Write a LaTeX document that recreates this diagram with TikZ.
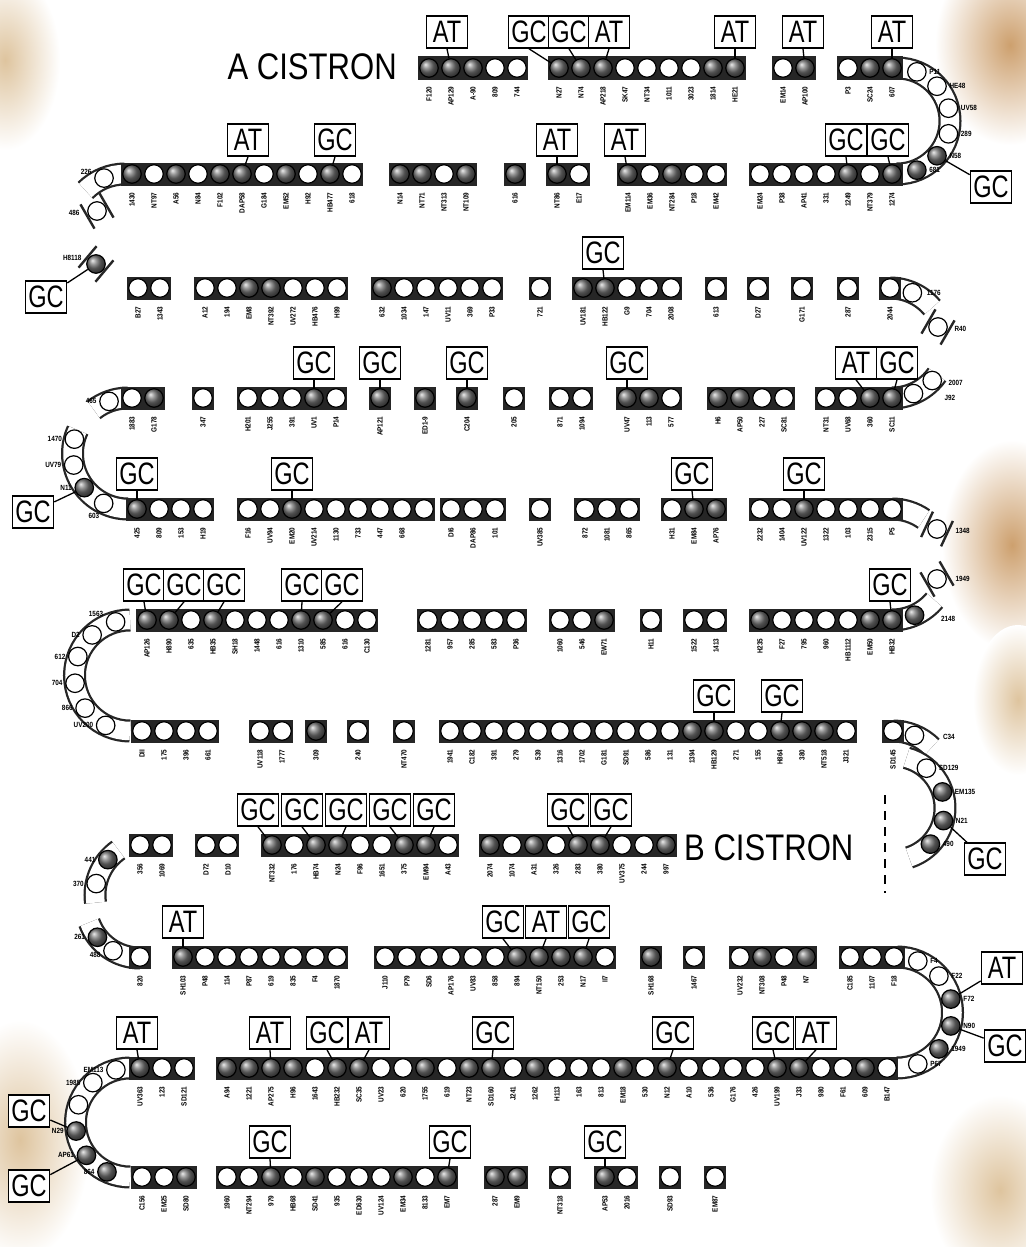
\documentclass[tikz,border=0pt]{standalone}
\usepackage{fontspec}
\setmainfont{Liberation Sans}
\newfontfamily\boxf[FakeStretch=0.76]{Liberation Sans}
\newfontfamily\cisf[FakeStretch=0.84]{Liberation Sans}
\newfontfamily\labf[FakeStretch=0.85]{Liberation Sans}
\definecolor{stain}{RGB}{222,196,158}
\definecolor{stainb}{RGB}{205,160,110}
\tikzset{
 oc/.style={circle,draw=black,line width=1.2pt,fill=white,minimum size=18.5pt,inner sep=0pt},
 fc/.style={circle,draw=black,line width=1.2pt,ball color=black!55,minimum size=18.5pt,inner sep=0pt},
 lab/.style={rotate=90,anchor=east,inner sep=0.3pt,font=\labf\bfseries\fontsize{7.5}{7.5}\selectfont},
 alab/.style={inner sep=0.3pt,font=\labf\bfseries\fontsize{7.5}{7.5}\selectfont},
 bp/.style={draw=black,line width=1.6pt,fill=white,minimum width=41pt,minimum height=32pt,inner sep=0pt,font=\boxf\fontsize{31}{31}\selectfont},
 cis/.style={inner sep=0pt,font=\cisf\fontsize{37}{37}\selectfont},
 conn/.style={line width=1.3pt},
 bandc/.style={fill=black!85},
 arcout/.style={line width=23pt,black!85},
 arcin/.style={line width=18.5pt,white},
 rail/.style={line width=2.4pt,black!85},
 dashln/.style={line width=2pt,dash pattern=on 9pt off 7pt}
}
% straight segment: id, x of first circle, y, list type/label
\newcommand\seg[4]{%
 \foreach \ty/\lb [count=\i from 0] in {#4}{%
  \fill[bandc] ({#2+\i*22-11.3},{#3-11.5}) rectangle ({#2+\i*22+11.3},{#3+11.5});
 }%
 \foreach \ty/\lb [count=\i] in {#4}{%
  \node[\ty] (#1-\i) at ({#2+(\i-1)*22},#3) {};
  \node[lab] at ({#2+(\i-1)*22},{#3+18}) {\lb};
 }%
}
% curved band: cx cy R a1 a2
\newcommand\arcband[5]{%
 \draw[arcout] ({#1+#3*cos(#4)},{#2+#3*sin(#4)}) arc[start angle=#4,end angle=#5,radius=#3];
 \draw[arcin] ({#1+#3*cos(#4)},{#2+#3*sin(#4)}) arc[start angle=#4,end angle=#5,radius=#3];
}
% circle on a curve: name cx cy R angle type label labelopts
\newcommand\arcc[8]{%
 \node[#6] (#1) at ({#2+#4*cos(#5)},{#3+#4*sin(#5)}) {};
 \node[alab,#8] at (#1) {#7};
}
% loose fragment: name x y rotation type
\newcommand\frag[5]{%
 \begin{scope}[shift={(#2,#3)},rotate=#4]
  \draw[rail] (-14,-11) -- (14,-11) (-14,11) -- (14,11);
 \end{scope}
 \node[#5] (#1) at (#2,#3) {};
}
% box with connector: name x y text target
\newcommand\bx[5]{%
 \node[bp] (#1) at (#2,#3) {#4};
 \draw[conn] (#1.south) -- (#5);
}
\begin{document}
\begin{tikzpicture}[x=1pt,y=-1pt]
\fill[white] (0,0) rectangle (1025,1247);
\useasboundingbox (0,0) rectangle (1025,1247);
% paper stains
\shade[inner color=stain,outer color=white] (5,60) ellipse [x radius=55,y radius=90];
\shade[inner color=stainb,outer color=white] (1010,45) ellipse [x radius=75,y radius=100];
\shade[inner color=stainb,outer color=white] (1012,545) ellipse [x radius=70,y radius=105];
\shade[inner color=stain,outer color=white] (1018,700) ellipse [x radius=45,y radius=75];
\shade[inner color=stain,outer color=white] (20,1140) ellipse [x radius=70,y radius=120];
\shade[inner color=stain,outer color=white] (1000,1190) ellipse [x radius=70,y radius=95];

% ---------- curved bands ----------
\arcband{897}{121}{53}{-90}{90}
\arcband{125}{230}{56}{-90}{-135}
\arcband{890}{343}{55}{-90}{-40}
\arcband{128}{453.5}{55.5}{-90}{-128}
\arcband{128}{453.5}{55.5}{-155}{-270}
\arcband{892}{343}{55}{90}{35}
\arcband{892}{564.5}{55.5}{-90}{-55}
\arcband{892}{564.5}{55.5}{90}{40}
\arcband{130}{675.5}{55.5}{-90}{-270}
\arcband{893}{786}{55}{-90}{-45}
\arcband{893}{808}{52}{-75}{72}
\arcband{150}{895}{55}{-125}{-188}
\arcband{140}{904}{54}{160}{90}
\arcband{897}{1012.5}{55.5}{-90}{90}
\arcband{130}{1122.5}{54.5}{-90}{-270}

% ---------- row 1 ----------
\node[cis,anchor=base east] (acis) at (397,80) {A CISTRON};
\seg{r1a}{429}{68}{fc/F120,fc/AP129,fc/A-90,oc/809,oc/744}
\seg{r1b}{559}{68}{fc/N27,fc/N74,fc/AP218,oc/SK47,oc/NT34,oc/1011,oc/3023,fc/1814,fc/HE21}
\seg{r1c}{783}{68}{oc/EM14,fc/AP100}
\seg{r1d}{848}{68}{oc/P3,fc/SC24,fc/607}
% ---------- row 2 ----------
\seg{r2a}{132}{174}{fc/1430,oc/NT97,fc/A56,oc/N84,fc/F102,fc/DAP58,oc/G184,fc/EM52,oc/H92,fc/HB477,oc/618}
\seg{r2b}{400}{174}{fc/N14,fc/NT71,oc/NT313,fc/NT109}
\seg{r2c}{515}{174}{fc/616}
\seg{r2d}{557}{174}{fc/NT86,oc/E17}
\seg{r2e}{628}{174}{fc/EM114,oc/EM36,fc/NT284,oc/P18,oc/EM42}
\seg{r2f}{760}{174}{oc/EM24,oc/P38,oc/AP41,oc/331,fc/1249,oc/NT379,fc/1274}
% ---------- row 3 ----------
\seg{r3a}{138}{288}{oc/B27,oc/1343}
\seg{r3b}{205}{288}{oc/A12,oc/194,fc/EM8,fc/NT392,oc/UV272,oc/HB476,oc/H99}
\seg{r3c}{382}{288}{fc/632,oc/1034,oc/147,oc/UV11,oc/369,oc/P33}
\seg{r3d}{540}{288}{oc/721}
\seg{r3e}{583}{288}{fc/UV181,fc/HB122,oc/G9,oc/704,oc/2008}
\seg{r3f}{716}{288}{oc/613}
\seg{r3g}{758}{288}{oc/D27}
\seg{r3h}{802}{288}{oc/G171}
\seg{r3i}{848}{288}{oc/287}
\seg{r3j}{890}{288}{oc/2044}
% ---------- row 4 ----------
\seg{r4a}{132}{398}{oc/1883,fc/G178}
\seg{r4b}{203}{398}{oc/347}
\seg{r4c}{248}{398}{oc/H201,oc/J255,oc/391,fc/UV1,oc/P14}
\seg{r4d}{380}{398}{fc/AP121}
\seg{r4e}{425}{398}{fc/ED1-9}
\seg{r4f}{467}{398}{fc/C204}
\seg{r4g}{514}{398}{oc/205}
\seg{r4h}{560}{398}{oc/871,oc/1094}
\seg{r4i}{627}{398}{fc/UV47,fc/113,oc/577}
\seg{r4j}{718}{398}{fc/H6,fc/AP50,oc/227,oc/SC81}
\seg{r4k}{826}{398}{oc/NT31,oc/UV68,fc/360,fc/SC11}
% ---------- row 5 ----------
\seg{r5a}{137}{509}{fc/425,oc/809,oc/153,oc/H19}
\seg{r5b}{248}{509}{oc/F16,oc/UV94,fc/EM20,oc/UV214,oc/1130,oc/733,oc/447,oc/668,oc/{}}
\seg{r5c}{451}{509}{oc/DI6,oc/DAP86,oc/101}
\seg{r5d}{540}{509}{oc/UV385}
\seg{r5e}{585}{509}{oc/872,oc/1081,oc/865}
\seg{r5f}{672}{509}{oc/H31,fc/EM84,fc/AP76}
\seg{r5g}{760}{509}{oc/2232,oc/1404,fc/UV122,oc/1322,oc/103,oc/2315,oc/P5}
% ---------- row 6 ----------
\seg{r6a}{147}{620}{fc/AP126,fc/H890,oc/635,fc/HB35,oc/SH18,oc/1448,oc/616,fc/1310,fc/585,oc/616,oc/C130}
\seg{r6b}{428}{620}{oc/1281,oc/957,oc/285,oc/583,oc/P36}
\seg{r6c}{560}{620}{oc/1060,oc/546,fc/EW71}
\seg{r6d}{651}{620}{oc/H11}
\seg{r6e}{694}{620}{oc/1522,oc/1413}
\seg{r6f}{760}{620}{fc/H235,oc/F27,oc/795,oc/960,oc/HB1112,fc/EM50,fc/HB32}
% ---------- row 7 ----------
\seg{r7a}{142}{731}{oc/DII,oc/175,oc/396,oc/661}
\seg{r7b}{260}{731}{oc/UV118,oc/1777}
\seg{r7c}{316}{731}{fc/309}
\seg{r7d}{358}{731}{oc/240}
\seg{r7e}{404}{731}{oc/NT470}
\seg{r7f}{450}{731}{oc/1941,oc/C182,oc/391,oc/279,oc/539,oc/1316,oc/1702,oc/G181,oc/SD91,oc/586,oc/131,fc/1394,fc/HB129,oc/271,oc/155,fc/H864,fc/380,fc/NT518,oc/J321}
\seg{r7g}{893}{731}{oc/SD145}
% ---------- row 8 ----------
\seg{r8a}{140}{845}{oc/356,oc/1069}
\seg{r8b}{206}{845}{oc/D72,oc/D10}
\seg{r8c}{272}{845}{fc/NT332,oc/176,fc/HB74,fc/N24,oc/F96,oc/1651,fc/375,fc/EM94,oc/A43}
\seg{r8d}{490}{845}{fc/2074,oc/1074,fc/A31,oc/326,fc/283,fc/380,oc/UV375,oc/244,fc/997}
\node[cis,anchor=base west] (bcis) at (684,860) {B CISTRON};
% ---------- row 9 ----------
\seg{r9a}{140}{957}{oc/820}
\seg{r9b}{183}{957}{fc/SH103,oc/P48,oc/114,oc/P87,oc/619,oc/835,oc/F4,oc/1870}
\seg{r9c}{385}{957}{oc/J110,oc/P79,oc/SD6,oc/AP176,oc/UV83,oc/858,fc/894,fc/NT150,fc/253,fc/N17,oc/II7}
\seg{r9d}{651}{957}{fc/SH168}
\seg{r9e}{694}{957}{oc/1467}
\seg{r9f}{740}{957}{oc/UV232,fc/NT308,oc/P48,fc/N7}
\seg{r9g}{850}{957}{oc/C185,oc/1107,oc/F18}
% ---------- row 10 ----------
\seg{r10a}{140}{1068}{fc/UV363,oc/123,oc/SD121}
\seg{r10b}{227}{1068}{fc/A94,fc/1221,fc/AP275,fc/H96,oc/1643,fc/HB232,fc/SC35,oc/UV23,oc/620,fc/1755,oc/619,fc/NT23,fc/SD160,oc/J241,fc/1262,oc/H113,oc/163,oc/813,fc/EM18,oc/530,fc/N12,oc/A10,oc/536,oc/G176,oc/426,fc/UV199,fc/J33,oc/980,oc/F61,fc/609,oc/B147}
% ---------- row 11 ----------
\seg{r11a}{142}{1177}{oc/C156,oc/EM25,fc/SD80}
\seg{r11b}{227}{1177}{oc/1960,oc/NT294,fc/979,oc/HB68,fc/SD41,oc/935,oc/ED630,oc/UV124,fc/EM34,oc/8133,fc/EM7}
\seg{r11c}{495}{1177}{fc/287,fc/EM9}
\seg{r11d}{560}{1177}{oc/NT318}
\seg{r11e}{605}{1177}{fc/AP53,oc/2016}
\seg{r11f}{670}{1177}{oc/SD93}
\seg{r11g}{715}{1177}{oc/EM87}

% ---------- circles on curves ----------
\arcc{a1p}{897}{121}{53}{-68}{oc}{P11}{anchor=west,xshift=12pt}
\arcc{a1h}{897}{121}{53}{-41}{oc}{HE48}{anchor=west,xshift=12pt}
\arcc{a1u}{897}{121}{53}{-14}{oc}{UV58}{anchor=west,xshift=12pt}
\arcc{a1t}{897}{121}{53}{14}{oc}{289}{anchor=west,xshift=12pt}
\arcc{a1n}{897}{121}{53}{41}{fc}{N58}{anchor=west,xshift=12pt}
\arcc{a1s}{897}{121}{53}{68}{fc}{681}{anchor=west,xshift=12pt}
\arcc{b2}{125}{230}{56}{-112}{oc}{226}{anchor=east,xshift=-12pt,yshift=6pt}
\arcc{b3}{890}{343}{55}{-66}{oc}{1176}{anchor=west,xshift=14pt}
\arcc{b4}{128}{453.5}{55.5}{-110}{oc}{465}{anchor=east,xshift=-12pt}
\arcc{b4ra}{892}{343}{55}{67}{oc}{}{}
\arcc{b4rb}{892}{343}{55}{43}{oc}{}{}
\node[alab,anchor=west] at (948,383) {2007};
\node[alab,anchor=west] at (944,398) {J92};
\arcc{c45a}{128}{453.5}{55.5}{-165}{oc}{1470}{anchor=east,xshift=-12pt}
\arcc{c45b}{128}{453.5}{55.5}{-192}{oc}{UV79}{anchor=east,xshift=-12pt}
\arcc{c45c}{128}{453.5}{55.5}{-218}{fc}{N11}{anchor=east,xshift=-12pt}
\arcc{c45d}{128}{453.5}{55.5}{-244}{oc}{603}{anchor=north east,xshift=-4pt,yshift=-9pt}
\arcc{b6r}{892}{564.5}{55.5}{66}{fc}{2148}{anchor=west,xshift=26pt,yshift=-4pt}
\arcc{c67a}{130}{675.5}{55.5}{-105}{oc}{1563}{anchor=east,xshift=-12pt,yshift=8pt}
\arcc{c67b}{130}{675.5}{55.5}{-133}{oc}{D2}{anchor=east,xshift=-12pt}
\arcc{c67c}{130}{675.5}{55.5}{-160}{oc}{612}{anchor=east,xshift=-12pt}
\arcc{c67d}{130}{675.5}{55.5}{-188}{oc}{704}{anchor=east,xshift=-12pt}
\arcc{c67e}{130}{675.5}{55.5}{-216}{oc}{866}{anchor=east,xshift=-12pt}
\arcc{c67f}{130}{675.5}{55.5}{-244}{oc}{UV200}{anchor=east,xshift=-12pt}
\arcc{b7r}{893}{786}{55}{-67}{oc}{C34}{anchor=west,xshift=28pt,yshift=-2pt}
\arcc{p1}{893}{808}{52}{-50}{oc}{SD129}{anchor=west,xshift=12pt}
\arcc{p2}{893}{808}{52}{-18}{fc}{EM135}{anchor=west,xshift=12pt}
\arcc{p3}{893}{808}{52}{14}{fc}{N21}{anchor=west,xshift=12pt}
\arcc{p4}{893}{808}{52}{44}{fc}{490}{anchor=west,xshift=12pt}
\arcc{l8a}{150}{895}{55}{-140}{fc}{441}{anchor=east,xshift=-12pt}
\arcc{l8b}{150}{895}{55}{-168}{oc}{370}{anchor=east,xshift=-12pt}
\arcc{l9a}{140}{904}{54}{142}{fc}{261}{anchor=east,xshift=-12pt}
\arcc{l9b}{140}{904}{54}{120}{oc}{488}{anchor=east,xshift=-12pt,yshift=-4pt}
\arcc{c910a}{897}{1012.5}{55.5}{-68}{oc}{F4}{anchor=west,xshift=12pt}
\arcc{c910b}{897}{1012.5}{55.5}{-41}{oc}{F22}{anchor=west,xshift=12pt}
\arcc{c910c}{897}{1012.5}{55.5}{-14}{fc}{F72}{anchor=west,xshift=12pt}
\arcc{c910d}{897}{1012.5}{55.5}{14}{fc}{N90}{anchor=west,xshift=12pt}
\arcc{c910e}{897}{1012.5}{55.5}{41}{fc}{1949}{anchor=west,xshift=12pt}
\arcc{c910f}{897}{1012.5}{55.5}{68}{oc}{P67}{anchor=west,xshift=12pt}
\arcc{c1011a}{130}{1122.5}{54.5}{-105}{oc}{EM113}{anchor=east,xshift=-12pt}
\arcc{c1011b}{130}{1122.5}{54.5}{-133}{oc}{1985}{anchor=east,xshift=-12pt}
\arcc{c1011c}{130}{1122.5}{54.5}{-161}{oc}{}{}
\arcc{c1011d}{130}{1122.5}{54.5}{-189}{fc}{N29}{anchor=east,xshift=-12pt}
\arcc{c1011e}{130}{1122.5}{54.5}{-217}{fc}{AP61}{anchor=east,xshift=-12pt}
\arcc{c1011f}{130}{1122.5}{54.5}{-245}{fc}{864}{anchor=east,xshift=-12pt}

% ---------- loose fragments ----------
\frag{fa}{97}{211}{-60}{oc}
\node[alab,anchor=east] at (80,213) {486};
\frag{fb}{96}{264}{50}{fc}
\node[alab,anchor=east] at (82,258) {H8118};
\frag{fr}{938}{327}{60}{oc}
\node[alab,anchor=west] at (954,329) {R40};
\frag{fd}{937}{529}{65}{oc}
\node[alab,anchor=west] at (955,531) {1348};
\frag{fe}{937}{579}{-60}{oc}
\node[alab,anchor=west] at (955,579) {1949};

% ---------- dashed divider ----------
\coordinate (dl1) at (885,795);
\coordinate (dl2) at (885,893);
\draw[dashln] (dl1) -- (dl2);

% ---------- boxes ----------
\bx{x1a}{447}{32}{AT}{r1a-2}
\bx{x1b}{529}{32}{GC}{r1b-1}
\bx{x1c}{569}{32}{GC}{r1b-2}
\bx{x1d}{609}{32}{AT}{r1b-3}
\bx{x1e}{735}{32}{AT}{r1b-9}
\bx{x1f}{803}{32}{AT}{r1c-2}
\bx{x1g}{892}{32}{AT}{r1d-3}
\node[bp] (x1h) at (991,187) {GC};
\draw[conn] (x1h) -- (a1n);

\bx{x2a}{248}{140}{AT}{r2a-6}
\bx{x2b}{335}{140}{GC}{r2a-10}
\bx{x2c}{557}{140}{AT}{r2d-1}
\bx{x2d}{625}{140}{AT}{r2e-1}
\bx{x2e}{846}{140}{GC}{r2f-5}
\bx{x2f}{888}{140}{GC}{r2f-7}

\node[bp] (x3a) at (46,297) {GC};
\draw[conn] (x3a) -- (fb);
\bx{x3b}{603}{253}{GC}{r3e-2}

\bx{x4a}{314}{363}{GC}{r4c-4}
\bx{x4b}{380}{363}{GC}{r4d-1}
\bx{x4c}{467}{363}{GC}{r4f-1}
\bx{x4d}{627}{363}{GC}{r4i-1}
\bx{x4e}{856}{363}{AT}{r4k-3}
\bx{x4f}{897}{363}{GC}{r4k-4}

\node[bp] (x5a) at (33,512) {GC};
\draw[conn] (x5a) -- (c45c);
\bx{x5b}{137}{474}{GC}{r5a-1}
\bx{x5c}{292}{474}{GC}{r5b-3}
\bx{x5d}{692}{474}{GC}{r5f-2}
\bx{x5e}{804}{474}{GC}{r5g-3}

\bx{x6a}{144}{585}{GC}{r6a-1}
\bx{x6b}{184}{585}{GC}{r6a-2}
\bx{x6c}{224}{585}{GC}{r6a-4}
\bx{x6d}{302}{585}{GC}{r6a-8}
\bx{x6e}{342}{585}{GC}{r6a-9}
\bx{x6f}{890}{585}{GC}{r6f-7}

\bx{x7a}{714}{696}{GC}{r7f-13}
\bx{x7b}{782}{696}{GC}{r7f-16}

\bx{x8a}{258}{810}{GC}{r8c-1}
\bx{x8b}{302}{810}{GC}{r8c-3}
\bx{x8c}{346}{810}{GC}{r8c-4}
\bx{x8d}{390}{810}{GC}{r8c-7}
\bx{x8e}{434}{810}{GC}{r8c-8}
\bx{x8f}{568}{810}{GC}{r8d-5}
\bx{x8g}{611}{810}{GC}{r8d-6}
\node[bp] (x8h) at (985,859) {GC};
\draw[conn] (x8h) -- (p3);

\bx{x9a}{183}{922}{AT}{r9b-1}
\bx{x9b}{503}{922}{GC}{r9c-7}
\bx{x9c}{546}{922}{AT}{r9c-8}
\bx{x9d}{589}{922}{GC}{r9c-10}
\node[bp] (x9e) at (1002,968) {AT};
\draw[conn] (x9e) -- (c910c);

\bx{x10a}{137}{1033}{AT}{r10a-1}
\bx{x10b}{270}{1033}{AT}{r10b-3}
\bx{x10c}{327}{1033}{GC}{r10b-6}
\bx{x10d}{369}{1033}{AT}{r10b-7}
\bx{x10e}{493}{1033}{GC}{r10b-13}
\bx{x10f}{673}{1033}{GC}{r10b-21}
\bx{x10g}{773}{1033}{GC}{r10b-26}
\bx{x10h}{816}{1033}{AT}{r10b-27}
\node[bp] (x10i) at (1005,1046) {GC};
\draw[conn] (x10i) -- (c910d);

\node[bp] (x11a) at (29,1111) {GC};
\draw[conn] (x11a) -- (c1011d);
\node[bp] (x11b) at (29,1186) {GC};
\draw[conn] (x11b) -- (c1011e);
\bx{x11c}{270}{1142}{GC}{r11b-3}
\bx{x11d}{450}{1142}{GC}{r11b-11}
\bx{x11e}{605}{1142}{GC}{r11e-1}
\end{tikzpicture}
\end{document}
